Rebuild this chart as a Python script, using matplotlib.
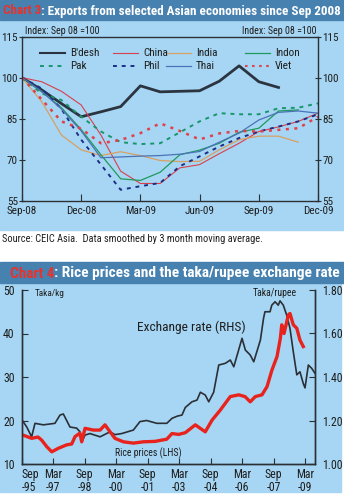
import matplotlib
matplotlib.use('Agg')
import matplotlib.pyplot as plt
from matplotlib import font_manager as fm
from matplotlib.transforms import Affine2D
from matplotlib.patches import Rectangle
from matplotlib.lines import Line2D


def pick_font():
    ents = fm.fontManager.ttflist
    names = {f.name for f in ents}
    for n in ['Liberation Sans Narrow', 'Roboto Condensed', 'Noto Sans Condensed',
              'Open Sans Condensed', 'DejaVu Sans Condensed']:
        if n in names:
            return n, 'normal'
    for n in ['Noto Sans', 'DejaVu Sans', 'Roboto', 'Open Sans']:
        for f in ents:
            if f.name == n and 'condensed' in str(f.stretch):
                return n, 'condensed'
    return 'Liberation Sans', 'normal'


FONT, STRETCH = pick_font()
plt.rcParams['font.family'] = [FONT, 'DejaVu Sans']
plt.rcParams['font.stretch'] = STRETCH

W, H = 344, 500
BG = '#a6d6f3'
BAR = '#4781b0'
RED = '#e8322b'
INK = '#2b2f36'
TXT = '#1e1e1e'

# ---- Chart 3 data: index Sep 08 = 100, monthly from Sep-08
x3_labels = ['Sep-08', 'Dec-08', 'Mar-09', 'Jun-09', 'Sep-09', 'Dec-09']
bdesh = [100, 95.5, 90.5, 85.7, 87.5, 89.4, 97.0, 94.8, 95.0, 95.2, 98.7, 104.3, 98.5, 96.4]
china = [100, 98.5, 95.0, 90.0, 79.0, 65.8, 61.3, 61.3, 67.0, 68.2, 72.2, 76.0, 80.3, 82.0, 84.0, 87.0]
india = [100, 91.2, 79.0, 73.6, 71.5, 72.9, 71.5, 69.7, 69.3, 69.4, 73.6, 77.3, 78.6, 78.6, 76.4]
indon = [100, 94.8, 89.0, 81.0, 71.8, 63.0, 62.4, 65.4, 71.8, 73.5, 76.0, 80.0, 81.5, 87.8, 88.2]
pak = [100, 94.2, 91.8, 85.7, 80.3, 76.4, 75.7, 76.0, 80.0, 84.0, 87.0, 86.6, 86.6, 88.8, 89.0, 90.6]
phil = [100, 96.0, 88.5, 77.3, 68.2, 59.0, 60.3, 61.5, 67.6, 71.2, 74.8, 77.9, 80.3, 82.1, 84.0, 86.6]
thai = [100, 95.0, 88.5, 80.5, 70.7, 71.0, 71.3, 71.5, 72.0, 73.0, 76.4, 79.7, 84.5, 87.3, 87.8, 87.0]
viet = [100, 92.0, 84.0, 81.3, 76.0, 77.2, 79.7, 83.3, 80.5, 77.4, 79.6, 80.5, 80.3, 80.9, 81.5, 85.7]

# ---- Chart 4 data: months since Sep-95
x4_labels = ['Sep\n-95', 'Mar\n-97', 'Sep\n-98', 'Mar\n-00', 'Sep\n-01',
             'Mar\n-03', 'Sep\n-04', 'Mar\n-06', 'Sep\n-07', 'Mar\n-09']
fx_m = [0.5, 3, 5.8, 7.7, 12.5, 19.1, 22, 23.9, 25.8, 27.7, 31.5, 33.4, 34.4, 36.3, 39.1,
        44.9, 50.6, 53.4, 57.3, 63.9, 67.7, 71.5, 77.3, 83, 86, 89, 91.7, 93.6, 97.4,
        100.3, 102.2, 105, 107, 109.8, 112.7, 116.5, 119.3, 121.3, 126, 127.9, 130.7,
        132.7, 136.5, 138.3, 139.1, 142, 143, 144.9, 146.7, 147.7, 149.6, 151.5, 153.4,
        155.3, 157.3, 159.1, 161, 162, 163.9, 165.8, 167.7]
fx = [1.20, 1.17, 1.125, 1.187, 1.18, 1.187, 1.225, 1.23, 1.20, 1.17, 1.165, 1.148, 1.10,
      1.133, 1.14, 1.125, 1.148, 1.135, 1.14, 1.156, 1.195, 1.20, 1.187, 1.187, 1.21, 1.22,
      1.225, 1.26, 1.286, 1.294, 1.33, 1.317, 1.286, 1.33, 1.455, 1.463, 1.478, 1.447,
      1.578, 1.524, 1.501, 1.47, 1.57, 1.67, 1.70, 1.70, 1.73, 1.746, 1.73, 1.75, 1.73,
      1.685, 1.624, 1.516, 1.41, 1.424, 1.37, 1.35, 1.455, 1.44, 1.417]
rice_m = [0.5, 5.8, 9.4, 11.5, 14.4, 17.3, 21, 25.8, 28.7, 30.6, 33.4, 34.4, 36.3, 41,
          44.9, 47.7, 50.6, 53.4, 58.2, 63.9, 69.6, 76.3, 83, 86, 89.8, 93.6, 99.3, 105,
          108.9, 113.6, 119.3, 124.1, 127.7, 130.7, 133.6, 137.4, 140.3, 143.1, 146, 147.9,
          148.7, 150, 152.5, 153.4, 155.3, 157.3, 159.1, 161]
rice = [16.7, 15.9, 16.2, 15.5, 14.0, 12.8, 13.6, 14.4, 14.6, 16.3, 17.1, 15.1, 18.2, 17.8,
        17.8, 19.0, 17.4, 15.9, 15.1, 14.8, 15.1, 15.2, 15.7, 17.0, 16.8, 17.2, 19.0, 17.4,
        20.1, 22.4, 25.5, 25.9, 25.5, 24.3, 25.5, 25.9, 27.8, 31.6, 34.7, 38.9, 42.0, 40.0,
        44.3, 44.6, 42.0, 41.2, 38.5, 37.0]

fig = plt.figure(figsize=(W / 100, H / 100), dpi=100)
fig.patch.set_facecolor('white')
T = Affine2D().scale(1 / W, -1 / H).translate(0, 1) + fig.transFigure
R = fig.canvas.get_renderer()


def px(x0, y0, x1, y1):
    return [x0 / W, 1 - y1 / H, (x1 - x0) / W, (y1 - y0) / H]


def fit(t, width):
    # shrink/grow a text so it spans the given pixel width
    w = t.get_window_extent(R).width
    t.set_fontsize(t.get_fontsize() * width / w)


def title(y0, y1, num, rest, x0, x1):
    fig.patches.append(Rectangle((0, y0), W, y1 - y0, transform=T, color=BAR, zorder=-5))
    yc = (y0 + y1) / 2 + 1
    a = fig.text(x0, yc, num, transform=T, color=RED, weight='bold', fontsize=11, va='center')
    b = fig.text(x0, yc, rest, transform=T, color='white', weight='bold', fontsize=11,
                 va='center')
    wa = a.get_window_extent(R).width
    wb = b.get_window_extent(R).width
    fs = 11 * (x1 - x0) / (wa + wb)
    a.set_fontsize(fs)
    b.set_fontsize(fs)
    b.set_x(x0 + a.get_window_extent(R).width)


# backgrounds
fig.patches.append(Rectangle((0, 20), W, 210, transform=T, color=BG, zorder=-10))
fig.patches.append(Rectangle((0, 282), 341, 210, transform=T, color=BG, zorder=-10))
title(0, 20, 'Chart 3', ': Exports from selected Asian economies since Sep 2008', 3, 338)
title(262, 283, 'Chart 4', ': Rice prices and the taka/rupee exchange rate', 10, 339)

# ---- Chart 3
ax3 = fig.add_axes(px(22, 36.6, 318, 200.7))
ax3.patch.set_visible(False)
series3 = [
    ("B'desh", bdesh, '#2b3440', 2.0, '-'),
    ('China', china, '#d9404c', 0.8, '-'),
    ('India', india, '#d8a064', 0.9, '-'),
    ('Indon', indon, '#1e9a5c', 0.9, '-'),
    ('Pak', pak, '#17966a', 1.4, (0, (2, 2.5))),
    ('Phil', phil, '#1d2e86', 1.4, (0, (2, 2.5))),
    ('Thai', thai, '#4b72b8', 0.9, '-'),
    ('Viet', viet, '#e0404a', 1.8, (0, (1.2, 2.2))),
]
for name, vals, col, lw, ls in series3:
    ax3.plot(range(len(vals)), vals, color=col, lw=lw, ls=ls)
ax3.set_xlim(0, 15)
ax3.set_ylim(55, 115)
for s in ax3.spines.values():
    s.set_color(INK)
    s.set_linewidth(1.0)
ax3.set_xticks(range(0, 16, 3))
ax3.set_xticklabels(x3_labels)
ax3.set_yticks([55, 70, 85, 100, 115])
ax3.tick_params(axis='x', direction='in', length=5, pad=4, labelsize=8, color=INK, colors=TXT)
ax3.tick_params(axis='y', direction='inout', length=4, pad=1, labelsize=8, color=INK,
                colors=TXT, labelright=True, right=True)
t = fig.text(25, 31, 'Index: Sep 08 =100', transform=T, fontsize=7.5, va='center', color=TXT)
fit(t, 75)
t = fig.text(316, 31, 'Index: Sep 08 =100', transform=T, fontsize=7.5, va='center', ha='right',
             color=TXT)
fit(t, 75)

# legend
cols = [40, 113, 166, 245]
rows = [52.5, 65.5]
for i, (name, vals, col, lw, ls) in enumerate(series3):
    r, c = divmod(i, 4)
    x, y = cols[c], rows[r]
    fig.lines.append(Line2D([x, x + 25], [y, y], transform=T, color=col, lw=min(lw, 1.5), ls=ls))
    fig.text(x + 30, y + 0.5, name, transform=T, fontsize=8, va='center', color=TXT)

t = fig.text(2, 239, 'Source: CEIC Asia.  Data smoothed by 3 month moving average.',
             transform=T, fontsize=7.5, va='center', color=TXT)
fit(t, 261)

# ---- Chart 4
ax4 = fig.add_axes(px(21.5, 290, 315, 464))
ax4r = ax4.twinx()
ax4.set_zorder(ax4r.get_zorder() + 1)
ax4.patch.set_visible(False)
ax4r.patch.set_visible(False)
ax4r.plot(fx_m, fx, color=INK, lw=1.2)
ax4.plot(rice_m, rice, color='#e8231e', lw=2.4)
ax4.set_xlim(0, 167.7)
ax4.set_ylim(10, 50)
ax4r.set_ylim(1.0, 1.8)
for a in (ax4, ax4r):
    a.spines['top'].set_visible(False)
    for s in a.spines.values():
        s.set_color(INK)
        s.set_linewidth(1.0)
ax4.set_yticks([10, 20, 30, 40, 50])
ax4r.set_yticks([1.0, 1.2, 1.4, 1.6, 1.8])
ax4r.set_yticklabels(['1.00', '1.20', '1.40', '1.60', '1.80'])
ax4.set_xticks(range(0, 163, 18))
ax4.set_xticklabels(x4_labels, linespacing=1.0)
ax4.get_xticklabels()[0].set_horizontalalignment('left')
ax4.tick_params(axis='x', direction='in', length=4, pad=3, labelsize=8.5, color=INK, colors=TXT)
ax4.tick_params(axis='y', direction='in', length=4, pad=5, labelsize=8.5, color=INK, colors=TXT)
ax4r.tick_params(axis='y', direction='in', length=4, pad=5, labelsize=8.5, color=INK, colors=TXT)
t = fig.text(35, 293, 'Taka/kg', transform=T, fontsize=7.5, va='center', color=TXT)
fit(t, 30)
t = fig.text(297, 293, 'Taka/rupee', transform=T, fontsize=7.5, va='center', ha='right',
             color=TXT)
fit(t, 44)
t = fig.text(191, 327, 'Exchange rate (RHS)', transform=T, fontsize=10, va='center',
             ha='center', color=TXT)
fit(t, 108)
t = fig.text(115, 453, 'Rice prices (LHS)', transform=T, fontsize=7, va='center', color=TXT)
fit(t, 67)

fig.savefig('out.png', dpi=100)
